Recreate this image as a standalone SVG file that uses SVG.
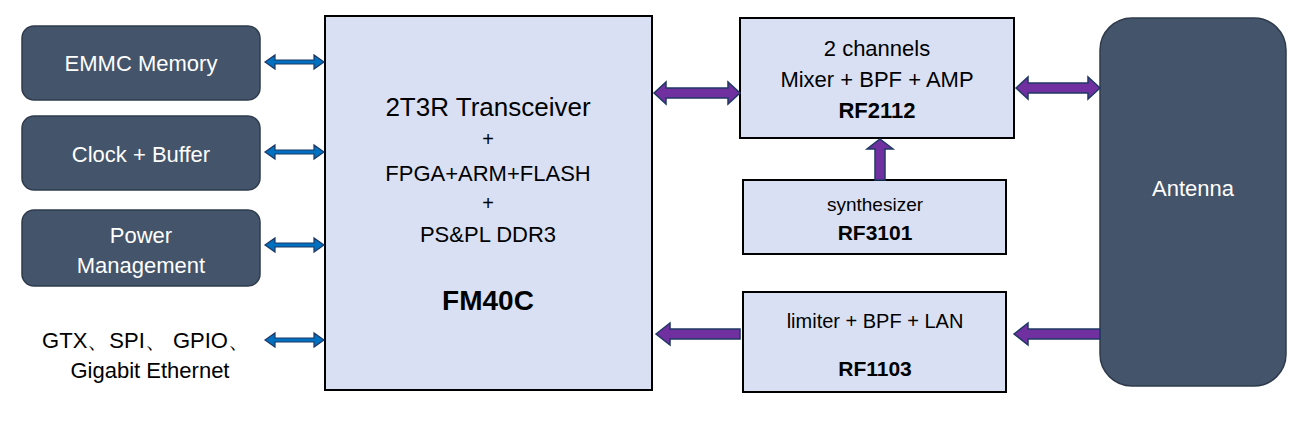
<svg xmlns="http://www.w3.org/2000/svg" width="1308" height="422" viewBox="0 0 1308 422">
<style>
.d{fill:#44546a;stroke:#2f3b4c;stroke-width:1.5}
.l{fill:#dae0f3;stroke:#000;stroke-width:2}
.w{font-family:"Liberation Sans",Arial,sans-serif;fill:#fff;font-size:22px;text-anchor:middle}
.t{font-family:"Liberation Sans",Arial,sans-serif;fill:#000;text-anchor:middle}
.b{fill:#0070c0;stroke:#1f3864;stroke-width:1.2}
.p{fill:#7030a0;stroke:#1f3864;stroke-width:1.5}
</style>
<rect width="1308" height="422" fill="#fff"/>
<g id="emmc"><rect class="d" x="22" y="26" width="238" height="74" rx="12"/><text class="w" x="141" y="71">EMMC Memory</text></g>
<g id="clock"><rect class="d" x="22" y="116" width="238" height="74" rx="12"/><text class="w" x="141" y="162">Clock + Buffer</text></g>
<g id="power"><rect class="d" x="22" y="210" width="238" height="76" rx="12"/><text class="w" x="141" y="243">Power</text><text class="w" x="141" y="273">Management</text></g>
<g id="ifaces"><text class="t" font-size="22" x="146" y="348">GTX、SPI、 GPIO、</text><text class="t" font-size="22" x="150" y="378">Gigabit Ethernet</text></g>
<g id="fm40c"><rect class="l" x="325" y="16" width="327" height="374"/>
<text class="t" font-size="26" x="488" y="116">2T3R Transceiver</text>
<text class="t" font-size="20" x="488" y="146">+</text>
<text class="t" font-size="22" x="488" y="181">FPGA+ARM+FLASH</text>
<text class="t" font-size="20" x="488" y="210">+</text>
<text class="t" font-size="22" x="488" y="242">PS&amp;PL DDR3</text>
<text class="t" font-size="28" font-weight="bold" x="488" y="310">FM40C</text></g>
<g id="rf2112"><rect class="l" x="740" y="18" width="274" height="120"/>
<text class="t" font-size="22" x="877" y="56">2 channels</text>
<text class="t" font-size="22" x="877" y="87">Mixer + BPF + AMP</text>
<text class="t" font-size="22" font-weight="bold" x="877" y="118">RF2112</text></g>
<g id="rf3101"><rect class="l" x="743" y="180" width="263" height="74"/>
<text class="t" font-size="19" x="875" y="211">synthesizer</text>
<text class="t" font-size="21" font-weight="bold" x="875" y="240">RF3101</text></g>
<g id="rf1103"><rect class="l" x="743" y="292" width="263" height="100"/>
<text class="t" font-size="20" x="875" y="328">limiter + BPF + LAN</text>
<text class="t" font-size="21" font-weight="bold" x="875" y="376">RF1103</text></g>
<g id="antenna"><rect class="d" x="1100" y="18" width="186" height="368" rx="32"/><text class="w" font-size="26" x="1193" y="196">Antenna</text></g>
<g id="connectors">
<g class="b">
<polygon points="265,62 275,55 275,60 314,60 314,55 324,62 314,69 314,64 275,64 275,69"/>
<polygon points="265,152 275,145 275,150 314,150 314,145 324,152 314,159 314,154 275,154 275,159"/>
<polygon points="265,245 275,238 275,243 314,243 314,238 324,245 314,252 314,247 275,247 275,252"/>
<polygon points="265,340 275,333 275,338 314,338 314,333 324,340 314,347 314,342 275,342 275,347"/>
</g>
<g class="p">
<polygon points="654,93 666,82 666,88 728,88 728,82 740,93 728,104 728,98 666,98 666,104"/>
<polygon points="1016,88 1028,77 1028,83 1088,83 1088,77 1100,88 1088,99 1088,93 1028,93 1028,99"/>
<polygon points="880,139 893,149 885,149 885,180 875,180 875,149 867,149"/>
<polygon points="656,334 670,323 670,329 740,329 740,339 670,339 670,345"/>
<polygon points="1014,334 1028,323 1028,329 1100,329 1100,339 1028,339 1028,345"/>
</g>
</g>
</svg>
